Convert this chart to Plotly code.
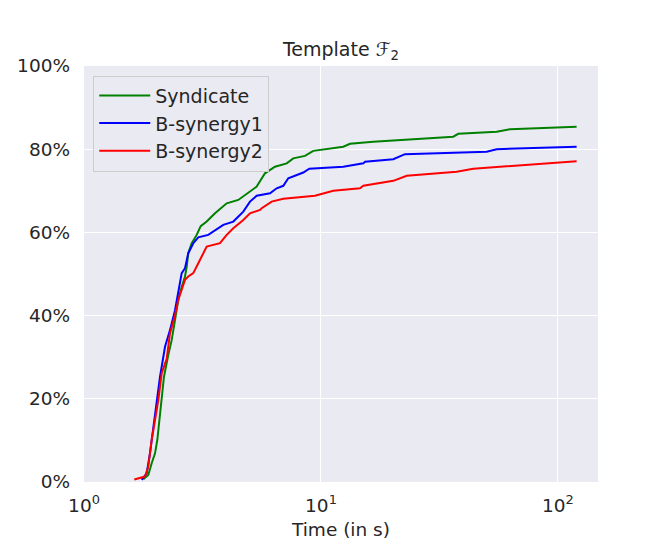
import plotly.graph_objects as go

# ---- data (time in s, cumulative % solved) ----
syn_t = [1.779, 1.868, 1.930, 1.994, 2.039, 2.093, 2.127, 2.175, 2.268, 2.344, 2.421, 2.500,
         2.584, 2.668, 2.713, 2.754, 2.848, 2.989, 3.108, 3.294, 3.571, 4.002, 4.478, 5.017,
         5.354, 5.803, 6.396, 7.166, 7.640, 8.560, 9.280, 12.42, 13.26, 16.62, 36.16, 37.96,
         55.13, 62.73, 119.9]
syn_pct = [0.65, 1.7, 4.5, 6.9, 10.1, 15.7, 19.7, 25.3, 30.5, 34.1, 38.9, 43.8,
           46.9, 49.4, 51.8, 55.0, 57.4, 59.4, 61.5, 62.6, 64.6, 67.0, 67.8, 69.8,
           71.0, 74.2, 75.8, 76.6, 77.8, 78.4, 79.6, 80.6, 81.3, 81.8, 83.0, 83.7,
           84.2, 84.8, 85.4]

bs1_t = [1.752, 1.839, 1.898, 1.961, 2.027, 2.093, 2.197, 2.306, 2.421, 2.500, 2.584, 2.668,
         2.754, 2.892, 3.036, 3.345, 3.512, 3.870, 4.266, 4.701, 5.017, 5.354, 6.095, 6.503,
         6.934, 7.278, 8.420, 8.925, 12.42, 15.09, 15.34, 20.19, 22.62, 50.03, 55.13, 119.9]
bs1_pct = [0.5, 2.1, 6.9, 13.3, 19.7, 25.3, 32.5, 36.5, 41.3, 46.2, 50.2, 51.4,
           55.0, 57.4, 58.8, 59.4, 60.2, 61.8, 62.6, 65.0, 67.4, 68.8, 69.4, 70.6,
           71.2, 73.0, 74.4, 75.3, 75.8, 76.6, 77.0, 77.6, 78.8, 79.4, 80.0, 80.6]

bs2_t = [1.630, 1.809, 1.868, 1.930, 1.994, 2.059, 2.127, 2.234, 2.306, 2.421, 2.500, 2.584,
         2.668, 2.754, 2.892, 3.036, 3.139, 3.294, 3.749, 4.002, 4.266, 4.701, 5.017, 5.529,
         5.622, 6.194, 6.934, 9.434, 11.27, 14.61, 15.09, 20.19, 23.00, 37.38, 43.91, 119.9]
bs2_pct = [0.6, 1.3, 3.7, 10.1, 14.9, 19.7, 26.1, 29.7, 35.7, 40.1, 43.8, 46.2,
           48.6, 49.4, 50.2, 52.6, 54.2, 56.6, 57.4, 59.4, 61.0, 63.0, 64.6, 65.4,
           65.8, 67.4, 68.1, 68.8, 70.0, 70.6, 71.2, 72.4, 73.6, 74.6, 75.3, 77.1]

series_names = ["Syndicate", "B-synergy1", "B-synergy2"]
series_colors = ["green", "blue", "red"]
y_ticks = [0, 20, 40, 60, 80, 100]
y_ticktext = ["0%", "20%", "40%", "60%", "80%", "100%"]
x_ticks = [1, 10, 100]
x_ticktext = ["10<sup>0</sup>", "10<sup>1</sup>", "10<sup>2</sup>"]

FONT = "DejaVu Sans"
TXT = "#262626"
FS = 18.5

fig = go.Figure()
for i, (t, p) in enumerate([(syn_t, syn_pct), (bs1_t, bs1_pct), (bs2_t, bs2_pct)]):
    fig.add_trace(go.Scatter(
        x=t, y=p, mode="lines", name=series_names[i], legendgroup=series_names[i],
        line=dict(color=series_colors[i], width=2),
    ))

fig.update_layout(
    width=658, height=533,
    margin=dict(l=76, r=68, t=58, b=59, autoexpand=False),
    paper_bgcolor="white",
    plot_bgcolor="#EAEAF2",
    font=dict(family=FONT, size=FS, color=TXT),
    title=dict(text="Template ℱ<sub>2</sub>", x=0.5, xref="paper", xanchor="center",
               y=1, yref="paper", yanchor="bottom", pad=dict(b=10),
               font=dict(family=FONT, size=19, color=TXT)),
    showlegend=True,
    legend=dict(x=0.018, y=0.977, xanchor="left", yanchor="top",
                bgcolor="rgba(234,234,242,0.8)", bordercolor="#CCCCCC", borderwidth=1,
                font=dict(family=FONT, size=19, color=TXT),
                traceorder="grouped", tracegroupgap=0, itemwidth=51),
    xaxis=dict(type="log", range=[0, 2.169], tickvals=x_ticks, ticktext=x_ticktext,
               showgrid=True, gridcolor="white", gridwidth=1.3, zeroline=False,
               showline=False, ticks="", ticklabelstandoff=10, automargin=False,
               title=dict(text="Time (in s)", standoff=8,
                          font=dict(family=FONT, size=FS, color=TXT)),
               tickfont=dict(family=FONT, size=FS, color=TXT)),
    yaxis=dict(range=[0, 100], tickvals=y_ticks, ticktext=y_ticktext,
               showgrid=True, gridcolor="white", gridwidth=1.3, zeroline=False,
               showline=False, ticks="", ticklabelstandoff=13, automargin=False,
               tickfont=dict(family=FONT, size=FS, color=TXT)),
)

fig.write_html("out.html")
